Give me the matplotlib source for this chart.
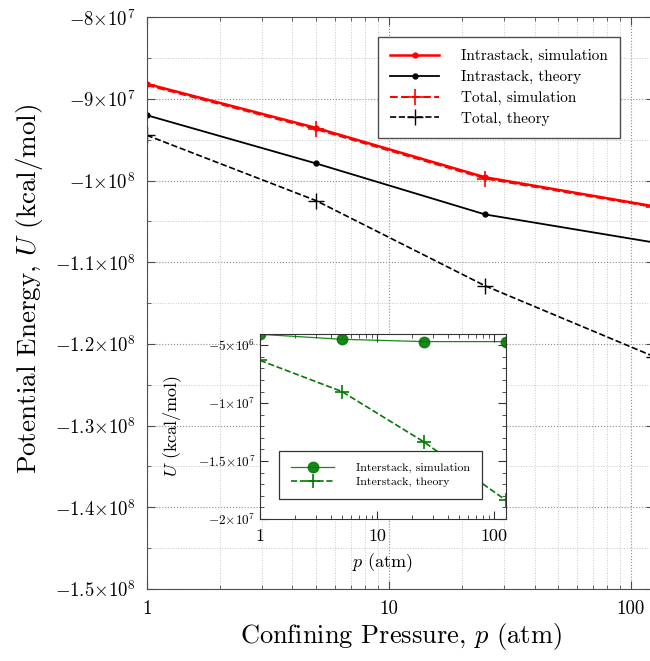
import matplotlib
matplotlib.use("Agg")
import matplotlib.pyplot as plt
from matplotlib.ticker import FixedLocator, FixedFormatter, LogLocator, NullFormatter, MultipleLocator

plt.rcParams['font.family'] = 'serif'
plt.rcParams['font.serif'] = ['cmr10']
plt.rcParams['mathtext.fontset'] = 'cm'
plt.rcParams['axes.formatter.use_mathtext'] = True
plt.rcParams['axes.unicode_minus'] = True

# data
pressure = [1, 5, 25, 125]
intra_sim = [-8.816e7, -9.355e7, -9.96e7, -1.0316e8]
intra_theory = [-9.20e7, -9.79e7, -1.0415e8, -1.0759e8]
total_sim = [-8.83e7, -9.37e7, -9.975e7, -1.0325e8]
total_theory = [-9.445e7, -1.0245e8, -1.1289e8, -1.2157e8]

inter_sim = [-4.06e6, -4.49e6, -4.69e6, -4.69e6]
inter_theory = [-6.31e6, -9.0e6, -1.334e7, -1.837e7]

main_yticks = [-8e7, -9e7, -1e8, -1.1e8, -1.2e8, -1.3e8, -1.4e8, -1.5e8]
main_ylabels = [r'$-8{\times}10^7$', r'$-9{\times}10^7$', r'$-1{\times}10^8$',
                r'$-1.1{\times}10^8$', r'$-1.2{\times}10^8$', r'$-1.3{\times}10^8$',
                r'$-1.4{\times}10^8$', r'$-1.5{\times}10^8$']
inset_yticks = [-5e6, -1e7, -1.5e7, -2e7]
inset_ylabels = [r'$-5{\times}10^6$', r'$-1{\times}10^7$', r'$-1.5{\times}10^7$', r'$-2{\times}10^7$']
xticks = [1, 10, 100]
xlabels = ['1', '10', '100']

green = '#007a00'

fig = plt.figure(figsize=(6.5, 6.61), dpi=100)
ax = fig.add_axes([0.2257, 0.109, 0.781, 0.865])

ax.plot(pressure, intra_sim, color='red', lw=1.8, marker='.', ms=7, label='Intrastack, simulation')
ax.plot(pressure, intra_theory, color='black', lw=1.3, marker='.', ms=7, label='Intrastack, theory')
ax.plot(pressure, total_sim, color='red', lw=1.5, ls='--', marker='+', ms=11, mew=1.2,
        label='Total, simulation')
ax.plot(pressure, total_theory, color='black', lw=1.2, ls='--', marker='+', ms=11, mew=1.0,
        label='Total, theory')

ax.set_xscale('log')
ax.set_xlim(1, 125)
ax.set_ylim(-1.5e8, -8e7)
ax.xaxis.set_major_locator(FixedLocator(xticks))
ax.xaxis.set_major_formatter(FixedFormatter(xlabels))
ax.xaxis.set_minor_locator(LogLocator(base=10, subs=range(2, 10)))
ax.xaxis.set_minor_formatter(NullFormatter())
ax.yaxis.set_major_locator(FixedLocator(main_yticks))
ax.yaxis.set_major_formatter(FixedFormatter(main_ylabels))
ax.yaxis.set_minor_locator(MultipleLocator(5e6))
ax.tick_params(which='both', direction='in', top=True, right=True, labelsize=13.5, color='0.3')
ax.tick_params(which='major', length=6, pad=8)
ax.tick_params(which='minor', length=3)
ax.grid(which='major', ls=':', color='0.55', lw=0.8)
ax.grid(which='minor', ls=':', color='0.78', lw=0.7)
for s in ax.spines.values():
    s.set_color('0.3')
ax.set_xlabel(r'Confining Pressure, $p$ (atm)', fontsize=19, labelpad=2)
ax.set_ylabel(r'Potential Energy, $U$ (kcal/mol)', fontsize=19.5)
ax.yaxis.set_label_coords(-0.2, 0.525)

leg = ax.legend(loc='upper right', bbox_to_anchor=(0.947, 0.979), fontsize=11, frameon=True,
                fancybox=False, edgecolor='0.3', framealpha=1, borderpad=0.8, handlelength=3.2,
                handletextpad=1.4, labelspacing=0.45)
leg.get_frame().set_linewidth(1.0)

# inset
ins = fig.add_axes([0.400, 0.2148, 0.378, 0.2805])
ins.plot(pressure, inter_sim, color=green, lw=0.9, alpha=0.9, marker='o', ms=7.5,
         label='Interstack, simulation')
ins.plot(pressure, inter_theory, color=green, lw=1.2, ls='--', marker='+', ms=10, mew=1.2,
         label='Interstack, theory')
ins.set_xscale('log')
ins.set_xlim(1, 125)
ins.set_ylim(-2e7, -4e6)
ins.xaxis.set_major_locator(FixedLocator(xticks))
ins.xaxis.set_major_formatter(FixedFormatter(xlabels))
ins.xaxis.set_minor_locator(LogLocator(base=10, subs=range(2, 10)))
ins.xaxis.set_minor_formatter(NullFormatter())
ins.yaxis.set_major_locator(FixedLocator(inset_yticks))
ins.yaxis.set_major_formatter(FixedFormatter(inset_ylabels))
ins.yaxis.set_minor_locator(MultipleLocator(1e6))
ins.tick_params(which='both', direction='in', top=True, right=True, color='0.2')
ins.tick_params(axis='x', which='major', labelsize=13, length=6, pad=7)
ins.tick_params(axis='y', which='major', labelsize=9.5, length=6)
ins.tick_params(which='minor', length=3)
for s in ins.spines.values():
    s.set_color('0.2')
ins.set_xlabel(r'$p$ (atm)', fontsize=13, labelpad=5)
ins.set_ylabel(r'$U$ (kcal/mol)', fontsize=13, labelpad=10)
ileg = ins.legend(loc='lower left', bbox_to_anchor=(0.055, 0.075), fontsize=8.6, frameon=True,
                  fancybox=False, edgecolor='0.2', framealpha=1, borderpad=1.0, handlelength=3.6,
                  handletextpad=1.8, labelspacing=0.3)
ileg.get_frame().set_linewidth(0.9)

fig.savefig('out.png', dpi=100)
